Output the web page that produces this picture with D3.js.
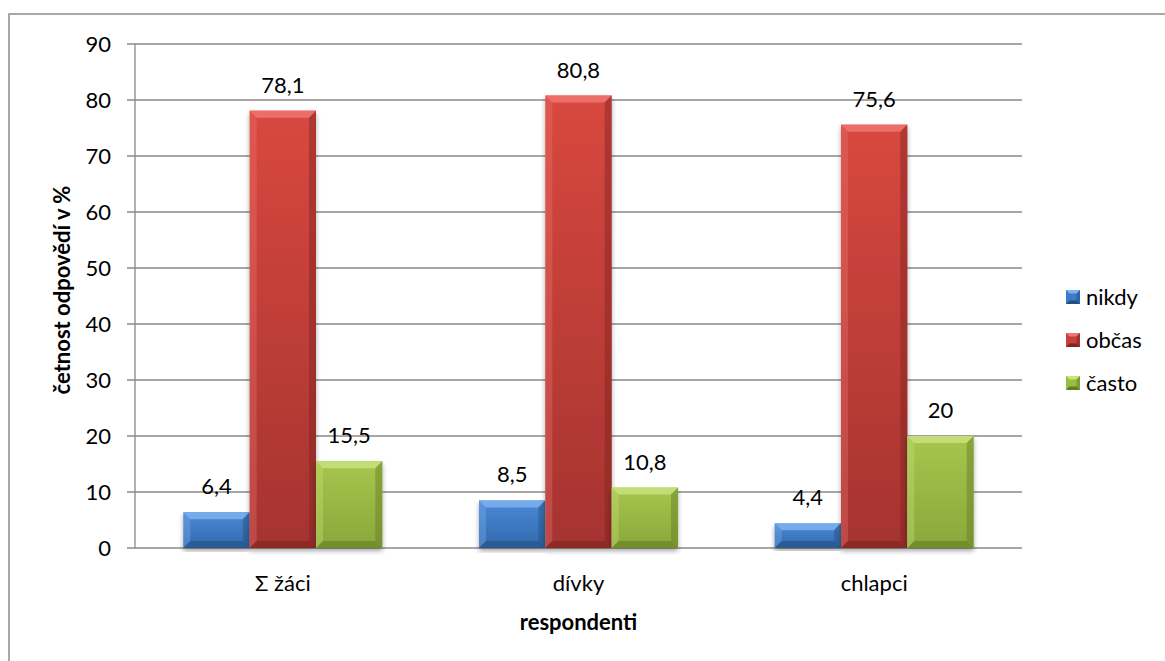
<!DOCTYPE html>
<html><head><meta charset="utf-8">
<script src="https://cdn.jsdelivr.net/npm/d3@7"></script>
<style>body{margin:0;background:#fff}svg{display:block}text{font-family:Lato,"Open Sans",sans-serif}</style>
</head><body><svg id="c" width="1165" height="661"></svg>
<script>
const categories = ["Σ žáci", "dívky", "chlapci"];
const seriesNames = ["nikdy", "občas", "často"];
const nikdy = [6.4, 8.5, 4.4];
const obcas = [78.1, 80.8, 75.6];
const casto = [15.5, 10.8, 20];
const yTicks = [0,10,20,30,40,50,60,70,80,90];
const labels = [["6,4","8,5","4,4"],["78,1","80,8","75,6"],["15,5","10,8","20"]];
const seriesValues = [nikdy, obcas, casto];
const palette = [
  {base:"#3d7bc6", top:"#4a8ad6", bot:"#3268ad", light:"#7fb2ee", dark:"#24507f"},
  {base:"#c63f3d", top:"#d8483f", bot:"#a53330", light:"#ee7570", dark:"#7e2422"},
  {base:"#9bbb45", top:"#a6c64e", bot:"#89a83a", light:"#c9e27b", dark:"#617d23"}
];
const FS = 22;

const svg = d3.select("#c");
const W=1165,H=661, m={l:135,r:143,t:44,b:113};
const pw = W-m.l-m.r, ph = H-m.t-m.b;
const defs = svg.append("defs");
palette.forEach((p,i)=>{
  const g = defs.append("linearGradient").attr("id","g"+i).attr("x1",0).attr("y1",0).attr("x2",0).attr("y2",1);
  g.append("stop").attr("offset","0%").attr("stop-color",p.top);
  g.append("stop").attr("offset","100%").attr("stop-color",p.bot);
});
const f = defs.append("filter").attr("id","sh").attr("x","-20%").attr("y","-5%").attr("width","140%").attr("height","115%");
f.append("feGaussianBlur").attr("in","SourceAlpha").attr("stdDeviation",2.5);
f.append("feOffset").attr("dx",0).attr("dy",3).attr("result","o");
f.append("feComponentTransfer").append("feFuncA").attr("type","linear").attr("slope",0.35);
const mg=f.append("feMerge"); mg.append("feMergeNode"); mg.append("feMergeNode").attr("in","SourceGraphic");

// outer border
svg.append("rect").attr("x",9).attr("y",14).attr("width",1170).attr("height",660).attr("fill","none").attr("stroke","#8c8c8c").attr("stroke-width",1.5);

const g = svg.append("g").attr("transform",`translate(${m.l},${m.t})`);
const y = d3.scaleLinear().domain([0,90]).range([ph,0]);
const x0 = d3.scaleBand().domain(categories).range([0,pw]).paddingInner(0).paddingOuter(0);
const groupW = x0.bandwidth()*0.673;
const x1 = d3.scaleBand().domain(seriesNames).range([(x0.bandwidth()-groupW)/2,(x0.bandwidth()+groupW)/2]).padding(0);

// gridlines
g.append("g").selectAll("line").data(yTicks).join("line")
  .attr("x1",-8).attr("x2",pw).attr("y1",d=>y(d)).attr("y2",d=>y(d))
  .attr("stroke","#888").attr("stroke-width",1.3);
g.append("line").attr("x1",0).attr("x2",0).attr("y1",0).attr("y2",ph).attr("stroke","#888").attr("stroke-width",1.3);

// y axis labels
const ya = g.append("g").call(d3.axisLeft(y).tickValues(yTicks).tickSize(0).tickPadding(24));
ya.select(".domain").remove();
ya.selectAll("text").attr("font-size",FS).attr("fill","#000").attr("font-family","Lato,'Open Sans',sans-serif");

// bars
const bev=7;
seriesNames.forEach((s,si)=>{
  const p = palette[si];
  categories.forEach((c,ci)=>{
    const v = seriesValues[si][ci];
    const bx = x0(c)+x1(s), bw = x1.bandwidth(), by = y(v), bh = ph-y(v);
    const bg = g.append("g").attr("filter","url(#sh)");
    bg.append("rect").attr("x",bx).attr("y",by).attr("width",bw).attr("height",bh).attr("fill",`url(#g${si})`);
    const b = Math.min(bev, bh/2);
    const X0=bx,X1=bx+bw,Y0=by,Y1=by+bh;
    bg.append("path").attr("d",`M${X0},${Y0}L${X1},${Y0}L${X1-b},${Y0+b}L${X0+b},${Y0+b}Z`).attr("fill",p.light).attr("opacity",0.85);
    bg.append("path").attr("d",`M${X0},${Y0}L${X0+b},${Y0+b}L${X0+b},${Y1-b}L${X0},${Y1}Z`).attr("fill",p.light).attr("opacity",0.35);
    bg.append("path").attr("d",`M${X1},${Y0}L${X1-b},${Y0+b}L${X1-b},${Y1-b}L${X1},${Y1}Z`).attr("fill",p.dark).attr("opacity",0.45);
    bg.append("path").attr("d",`M${X0},${Y1}L${X0+b},${Y1-b}L${X1-b},${Y1-b}L${X1},${Y1}Z`).attr("fill",p.dark).attr("opacity",0.6);
    g.append("text").attr("x",bx+bw/2).attr("y",by-18).attr("text-anchor","middle")
      .attr("font-size",FS).attr("fill","#000").text(labels[si][ci]);
  });
});

// x axis labels
const xa = g.append("g").attr("transform",`translate(0,${ph})`).call(d3.axisBottom(x0).tickSize(0).tickPadding(27));
xa.select(".domain").remove();
xa.selectAll("text").attr("font-size",FS).attr("fill","#000").attr("font-family","Lato,'Open Sans',sans-serif");

// axis titles
svg.append("text").attr("x",m.l+pw/2).attr("y",630).attr("text-anchor","middle").attr("font-size",FS).attr("font-weight","bold").text("respondenti");
svg.append("text").attr("transform","translate(70,290) rotate(-90)").attr("text-anchor","middle").attr("font-size",FS).attr("font-weight","bold").text("četnost odpovědí v %");

// legend
const lg = svg.append("g");
seriesNames.forEach((s,i)=>{
  const p=palette[i], ly=297+i*43, lx=1066, sz=14;
  const q = lg.append("g");
  q.append("rect").attr("x",lx).attr("y",ly-sz/2).attr("width",sz).attr("height",sz).attr("fill",p.base);
  const X0=lx,X1=lx+sz,Y0=ly-sz/2,Y1=ly+sz/2,b=3.5;
  q.append("path").attr("d",`M${X0},${Y0}L${X1},${Y0}L${X1-b},${Y0+b}L${X0+b},${Y0+b}Z`).attr("fill",p.light);
  q.append("path").attr("d",`M${X0},${Y1}L${X0+b},${Y1-b}L${X1-b},${Y1-b}L${X1},${Y1}Z`).attr("fill",p.dark);
  q.append("path").attr("d",`M${X1},${Y0}L${X1-b},${Y0+b}L${X1-b},${Y1-b}L${X1},${Y1}Z`).attr("fill",p.dark).attr("opacity",0.5);
  lg.append("text").attr("x",1086).attr("y",ly).attr("dy","0.35em").attr("font-size",FS).text(s);
});
</script></body></html>
